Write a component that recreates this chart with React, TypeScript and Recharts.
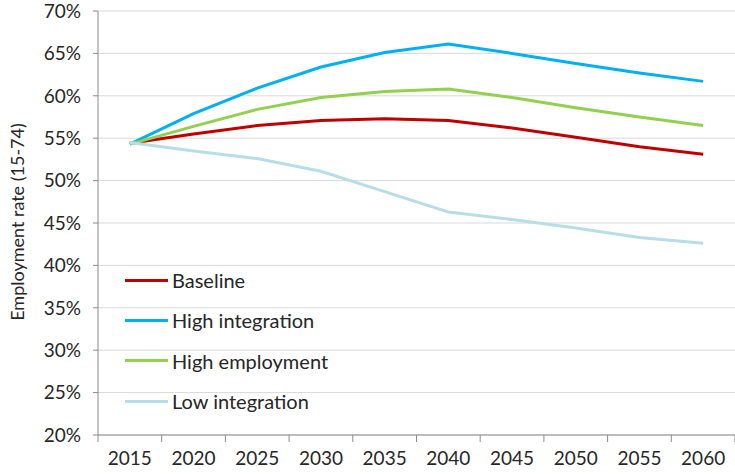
import { CartesianGrid, Line, LineChart, XAxis, YAxis } from 'recharts';

const years = ['2015', '2020', '2025', '2030', '2035', '2040', '2045', '2050', '2055', '2060'];
const baseline = [54.4, 55.5, 56.5, 57.1, 57.3, 57.1, 56.2, 55.1, 54.0, 53.1];
const highIntegration = [54.3, 57.9, 60.9, 63.4, 65.1, 66.1, 65.0, 63.8, 62.7, 61.7];
const highEmployment = [54.3, 56.4, 58.4, 59.8, 60.5, 60.8, 59.8, 58.6, 57.5, 56.5];
const lowIntegration = [54.5, 53.5, 52.6, 51.1, 48.7, 46.3, 45.4, 44.4, 43.3, 42.6];
const yTicks = [20, 25, 30, 35, 40, 45, 50, 55, 60, 65, 70];

const series = [
  { key: 'baseline', name: 'Baseline', color: '#C00000', values: baseline },
  { key: 'highIntegration', name: 'High integration', color: '#00B0F0', values: highIntegration },
  { key: 'highEmployment', name: 'High employment', color: '#92D050', values: highEmployment },
  { key: 'lowIntegration', name: 'Low integration', color: '#B7DEE8', values: lowIntegration },
];

const data = years.map((year, i) => {
  const row: Record<string, string | number> = { year };
  series.forEach((s) => {
    row[s.key] = s.values[i];
  });
  return row;
});

const FONT = 'Lato, "Open Sans", sans-serif';
const TEXT = '#262626';
const AXIS = '#8c8c8c';
const HALF_STEP = 31.85;

const XTick = (props: any) => {
  const { x, y, payload, index } = props;
  return (
    <g>
      <line x1={x - HALF_STEP} x2={x - HALF_STEP} y1={y - 8} y2={y - 1} stroke={AXIS} />
      {index === years.length - 1 && (
        <line x1={x + HALF_STEP} x2={x + HALF_STEP} y1={y - 8} y2={y - 1} stroke={AXIS} />
      )}
      <text x={x} y={y + 22} textAnchor="middle" fontSize={19} fill={TEXT} fontFamily={FONT}>
        {payload.value}
      </text>
    </g>
  );
};

// legend sits inside the plot, lower left, like the excel original
const LegendBox = () => (
  <div
    style={{
      position: 'absolute',
      left: 125,
      top: 260,
      fontFamily: FONT,
      fontSize: 20,
      color: TEXT,
      pointerEvents: 'none',
    }}
  >
    {series.map((s) => (
      <div key={s.key} style={{ display: 'flex', alignItems: 'center', height: 40.3 }}>
        <div style={{ width: 43, height: 3, background: s.color, marginRight: 4 }} />
        <span>{s.name}</span>
      </div>
    ))}
  </div>
);

export default function App() {
  return (
    <div style={{ position: 'absolute', left: 0, top: 0, width: 735, height: 474, background: '#fff' }}>
      <LineChart width={735} height={474} data={data} margin={{ top: 11, right: 0, bottom: 0, left: 0 }}>
        <CartesianGrid vertical={false} stroke="#d9d9d9" />
        <XAxis
          dataKey="year"
          height={39}
          padding={{ left: HALF_STEP, right: HALF_STEP }}
          stroke={AXIS}
          tickLine={false}
          tick={<XTick />}
          interval={0}
        />
        <YAxis
          width={98}
          domain={[20, 70]}
          ticks={yTicks}
          interval={0}
          stroke={AXIS}
          tickSize={5}
          tickMargin={12}
          tickFormatter={(v) => `${v}%`}
          tick={{ fontSize: 19, fill: TEXT, fontFamily: FONT }}
          label={(p: any) => {
            const cy = p.viewBox.y + p.viewBox.height / 2 - 1;
            return (
              <text
                x={17}
                y={cy}
                transform={`rotate(-90 17 ${cy})`}
                textAnchor="middle"
                dominantBaseline="central"
                fontSize={18}
                fill={TEXT}
                fontFamily={FONT}
              >
                Employment rate (15-74)
              </text>
            );
          }}
        />
        {series.map((s) => (
          <Line
            key={s.key}
            dataKey={s.key}
            name={s.name}
            stroke={s.color}
            strokeWidth={3}
            dot={false}
            type="linear"
            isAnimationActive={false}
          />
        ))}
      </LineChart>
      <LegendBox />
    </div>
  );
}
